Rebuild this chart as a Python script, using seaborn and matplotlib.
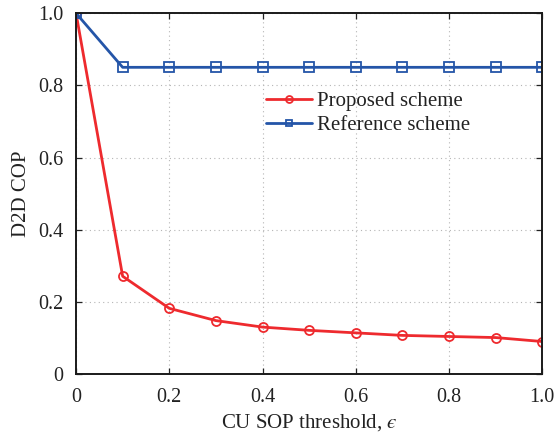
import matplotlib
matplotlib.use("Agg")
import matplotlib.pyplot as plt
import seaborn as sns
import pandas as pd

x_vals = [0.0, 0.1, 0.2, 0.3, 0.4, 0.5, 0.6, 0.7, 0.8, 0.9, 1.0]
proposed = [1.0, 0.271, 0.182, 0.148, 0.130, 0.121, 0.114, 0.107, 0.104, 0.101, 0.090]
reference = [1.0, 0.85, 0.85, 0.85, 0.85, 0.85, 0.85, 0.85, 0.85, 0.85, 0.85]
series_names = ["Proposed scheme", "Reference scheme"]
x_ticks = [0, 0.2, 0.4, 0.6, 0.8, 1.0]
x_tick_labels = ["0", "0.2", "0.4", "0.6", "0.8", "1.0"]
y_ticks = [0, 0.2, 0.4, 0.6, 0.8, 1.0]
y_tick_labels = ["0", "0.2", "0.4", "0.6", "0.8", "1.0"]

sns.set_style("ticks")
plt.rcParams["font.family"] = ["Liberation Serif", "DejaVu Serif"]
plt.rcParams["mathtext.fontset"] = "stix"

df = pd.DataFrame({
    "x": x_vals * 2,
    "y": proposed + reference,
    "series": [series_names[0]] * len(x_vals) + [series_names[1]] * len(x_vals),
})

fig = plt.figure(figsize=(5.55, 4.4), dpi=100)
ax = fig.add_axes([0.137, 0.150, 0.840, 0.820])

palette = {series_names[0]: "#ee2a2e", series_names[1]: "#2455a8"}
sns.lineplot(data=df, x="x", y="y", hue="series", style="series",
             markers={series_names[0]: "o", series_names[1]: "s"},
             dashes=False, palette=palette, ax=ax, linewidth=2.0,
             markersize=6.5, markerfacecolor="none", markeredgewidth=1.3)
for line, name in zip(ax.lines, series_names):
    line.set_markeredgecolor(palette[name])
    line.set_markerfacecolor("none")

ax.set_xlim(0, 1)
ax.set_ylim(0, 1)
ax.set_xticks(x_ticks)
ax.set_xticklabels(x_tick_labels)
ax.set_yticks(y_ticks)
ax.set_yticklabels(y_tick_labels)
ax.tick_params(direction="in", top=True, right=True, labelsize=14.5, length=4, width=0.9,
               colors="#222222")
ax.tick_params(axis="x", pad=10)
ax.tick_params(axis="y", pad=9)
ax.grid(True, linestyle=(0, (1, 3)), color="#b5b5b5", linewidth=0.8)
for s in ax.spines.values():
    s.set_linewidth(1.4)
    s.set_color("#1a1a1a")
ax.set_xlabel("CU SOP threshold, $\u03f5$", fontsize=15, labelpad=4, color="#222222")
ax.set_ylabel("D2D COP", fontsize=15, labelpad=5, color="#222222")

handles, labels = ax.get_legend_handles_labels()
for h, name in zip(handles, series_names):
    h.set_markerfacecolor("none")
    h.set_markeredgecolor(palette[name])
    h.set_markersize(5)
ax.legend(handles=handles, labels=labels, loc="upper left", bbox_to_anchor=(0.39, 0.805),
          frameon=False, fontsize=15, handlelength=2.2, handletextpad=0.25,
          labelspacing=0.2, borderaxespad=0, labelcolor="#222222")

fig.savefig("out.png", dpi=100)
